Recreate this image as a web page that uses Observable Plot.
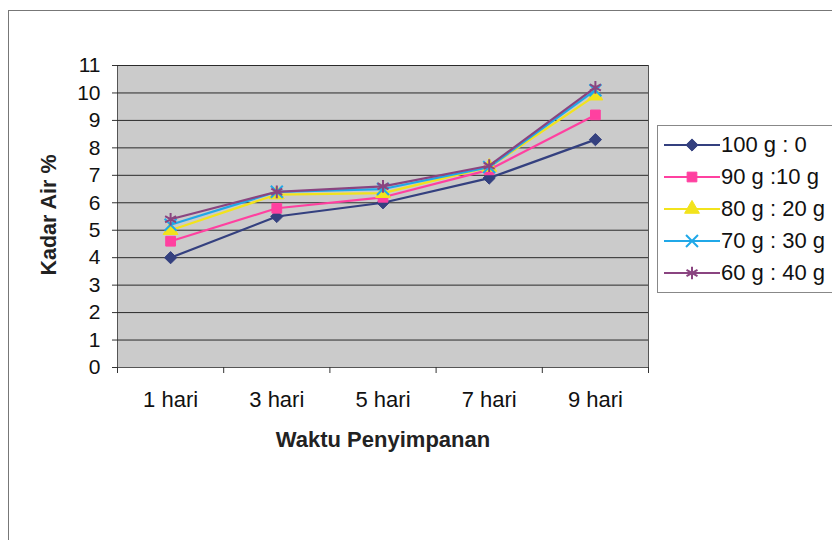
<!DOCTYPE html>
<html>
<head>
<meta charset="utf-8">
<script src="https://cdn.jsdelivr.net/npm/d3@7"></script>
<script src="https://cdn.jsdelivr.net/npm/@observablehq/plot@0.6"></script>
<style>
  html, body { margin: 0; padding: 0; background: #fff; }
  #wrap { position: relative; width: 832px; height: 540px; overflow: hidden; font-family: "Liberation Sans", Arial, sans-serif; }
  #frame { position: absolute; left: 8px; top: 10px; width: 900px; height: 600px; border-left: 1px solid #777; border-top: 1px solid #777; }
  #legend { position: absolute; left: 657px; top: 125px; width: 200px; height: 168px; border: 1px solid #888; background: #fff; box-sizing: border-box; padding-top: 3px; }
  .row { display: flex; align-items: center; height: 32px; font-size: 22px; color: #111; }
  .row svg { margin-left: 6px; margin-right: 1px; }
</style>
</head>
<body>
<div id="wrap"><div id="frame"></div></div>
<script>
const days = ["1 hari", "3 hari", "5 hari", "7 hari", "9 hari"];
const seriesNames = ["100 g : 0", "90 g :10 g", "80 g : 20 g", "70 g : 30 g", "60 g : 40 g"];
const s100 = [4.0, 5.5, 6.0, 6.9, 8.3];
const s90  = [4.6, 5.8, 6.2, 7.2, 9.2];
const s80  = [5.0, 6.3, 6.35, 7.3, 9.9];
const s70  = [5.2, 6.4, 6.5, 7.3, 10.1];
const s60  = [5.4, 6.4, 6.6, 7.35, 10.2];
const yTicks = [0,1,2,3,4,5,6,7,8,9,10,11];
const colors = ["#34407f", "#ff40a0", "#f2e31c", "#20a8e8", "#8a4480"];
const symbols = ["diamond2", "square", "triangle", "times", "asterisk"];
const filled = [true, true, true, false, false];

const allSeries = [s100, s90, s80, s70, s60];
const rows = [];
allSeries.forEach((vals, si) => vals.forEach((v, i) => rows.push({series: seriesNames[si], si, i, day: days[i], x: i + 0.5, y: v})));

const marks = [
  Plot.frame({fill: "#cbcbcb", stroke: "#555"}),
  Plot.ruleY(yTicks.filter(d => d > 0), {y: d => d, stroke: "#2a2a2a", strokeWidth: 1}),
  Plot.axisY({ticks: yTicks, tickSize: 5, tickPadding: 12, label: null, fontSize: 21, stroke: "#333"}),
  Plot.axisX({ticks: d3.range(0, days.length + 1), tickSize: 6, tickFormat: () => "", label: null, stroke: "#333"}),
  Plot.axisX({ticks: days.map((d, i) => i + 0.5), tickSize: 0, tickPadding: 24, tickFormat: v => days[Math.floor(v)], label: null, fontSize: 22})
];
allSeries.forEach((vals, si) => {
  const data = rows.filter(r => r.si === si);
  marks.push(Plot.line(data, {x: "x", y: "y", stroke: colors[si], strokeWidth: 2.2}));
  marks.push(Plot.dot(data, {
    x: "x", y: "y", symbol: () => symbols[si], r: si === 4 ? 6 : 5.5,
    fill: filled[si] ? colors[si] : "none",
    stroke: colors[si], strokeWidth: filled[si] ? 1 : 2
  }));
});

const chart = Plot.plot({
  width: 832, height: 540,
  marginLeft: 117, marginRight: 184, marginTop: 65, marginBottom: 173,
  x: {domain: [0, days.length], axis: null},
  y: {domain: [0, 11], axis: null},
  style: {fontFamily: "'Liberation Sans', Arial, sans-serif", color: "#111", background: "transparent"},
  marks
});
chart.style.position = "absolute";
chart.style.left = "0px";
chart.style.top = "0px";
const wrap = document.getElementById("wrap");
wrap.appendChild(chart);

// axis titles
const svg = d3.select(chart);
svg.append("text").attr("x", 383).attr("y", 447).attr("text-anchor", "middle")
  .style("font-size", "22px").style("font-weight", "bold").attr("fill", "#222").text("Waktu Penyimpanan");
svg.append("text").attr("transform", "translate(56,215) rotate(-90)").attr("text-anchor", "middle")
  .style("font-size", "21.5px").style("font-weight", "bold").attr("fill", "#222").text("Kadar Air %");

// legend
const legend = document.createElement("div");
legend.id = "legend";
seriesNames.forEach((name, si) => {
  const row = document.createElement("div");
  row.className = "row";
  const s = d3.create("svg").attr("width", 56).attr("height", 22);
  s.append("line").attr("x1", 0).attr("x2", 56).attr("y1", 11).attr("y2", 11).attr("stroke", colors[si]).attr("stroke-width", 2.2);
  const symMap = {diamond2: d3.symbolDiamond2, square: d3.symbolSquare, triangle: d3.symbolTriangle, times: d3.symbolTimes, asterisk: d3.symbolAsterisk};
  const size = si === 4 ? 6 : 5.5;
  s.append("path").attr("transform", "translate(28,11)")
    .attr("d", d3.symbol(symMap[symbols[si]], size * size * Math.PI)())
    .attr("fill", filled[si] ? colors[si] : "none").attr("stroke", colors[si]).attr("stroke-width", filled[si] ? 1 : 2);
  row.appendChild(s.node());
  const t = document.createElement("span");
  t.textContent = name;
  row.appendChild(t);
  legend.appendChild(row);
});
wrap.appendChild(legend);
</script>
</body>
</html>
